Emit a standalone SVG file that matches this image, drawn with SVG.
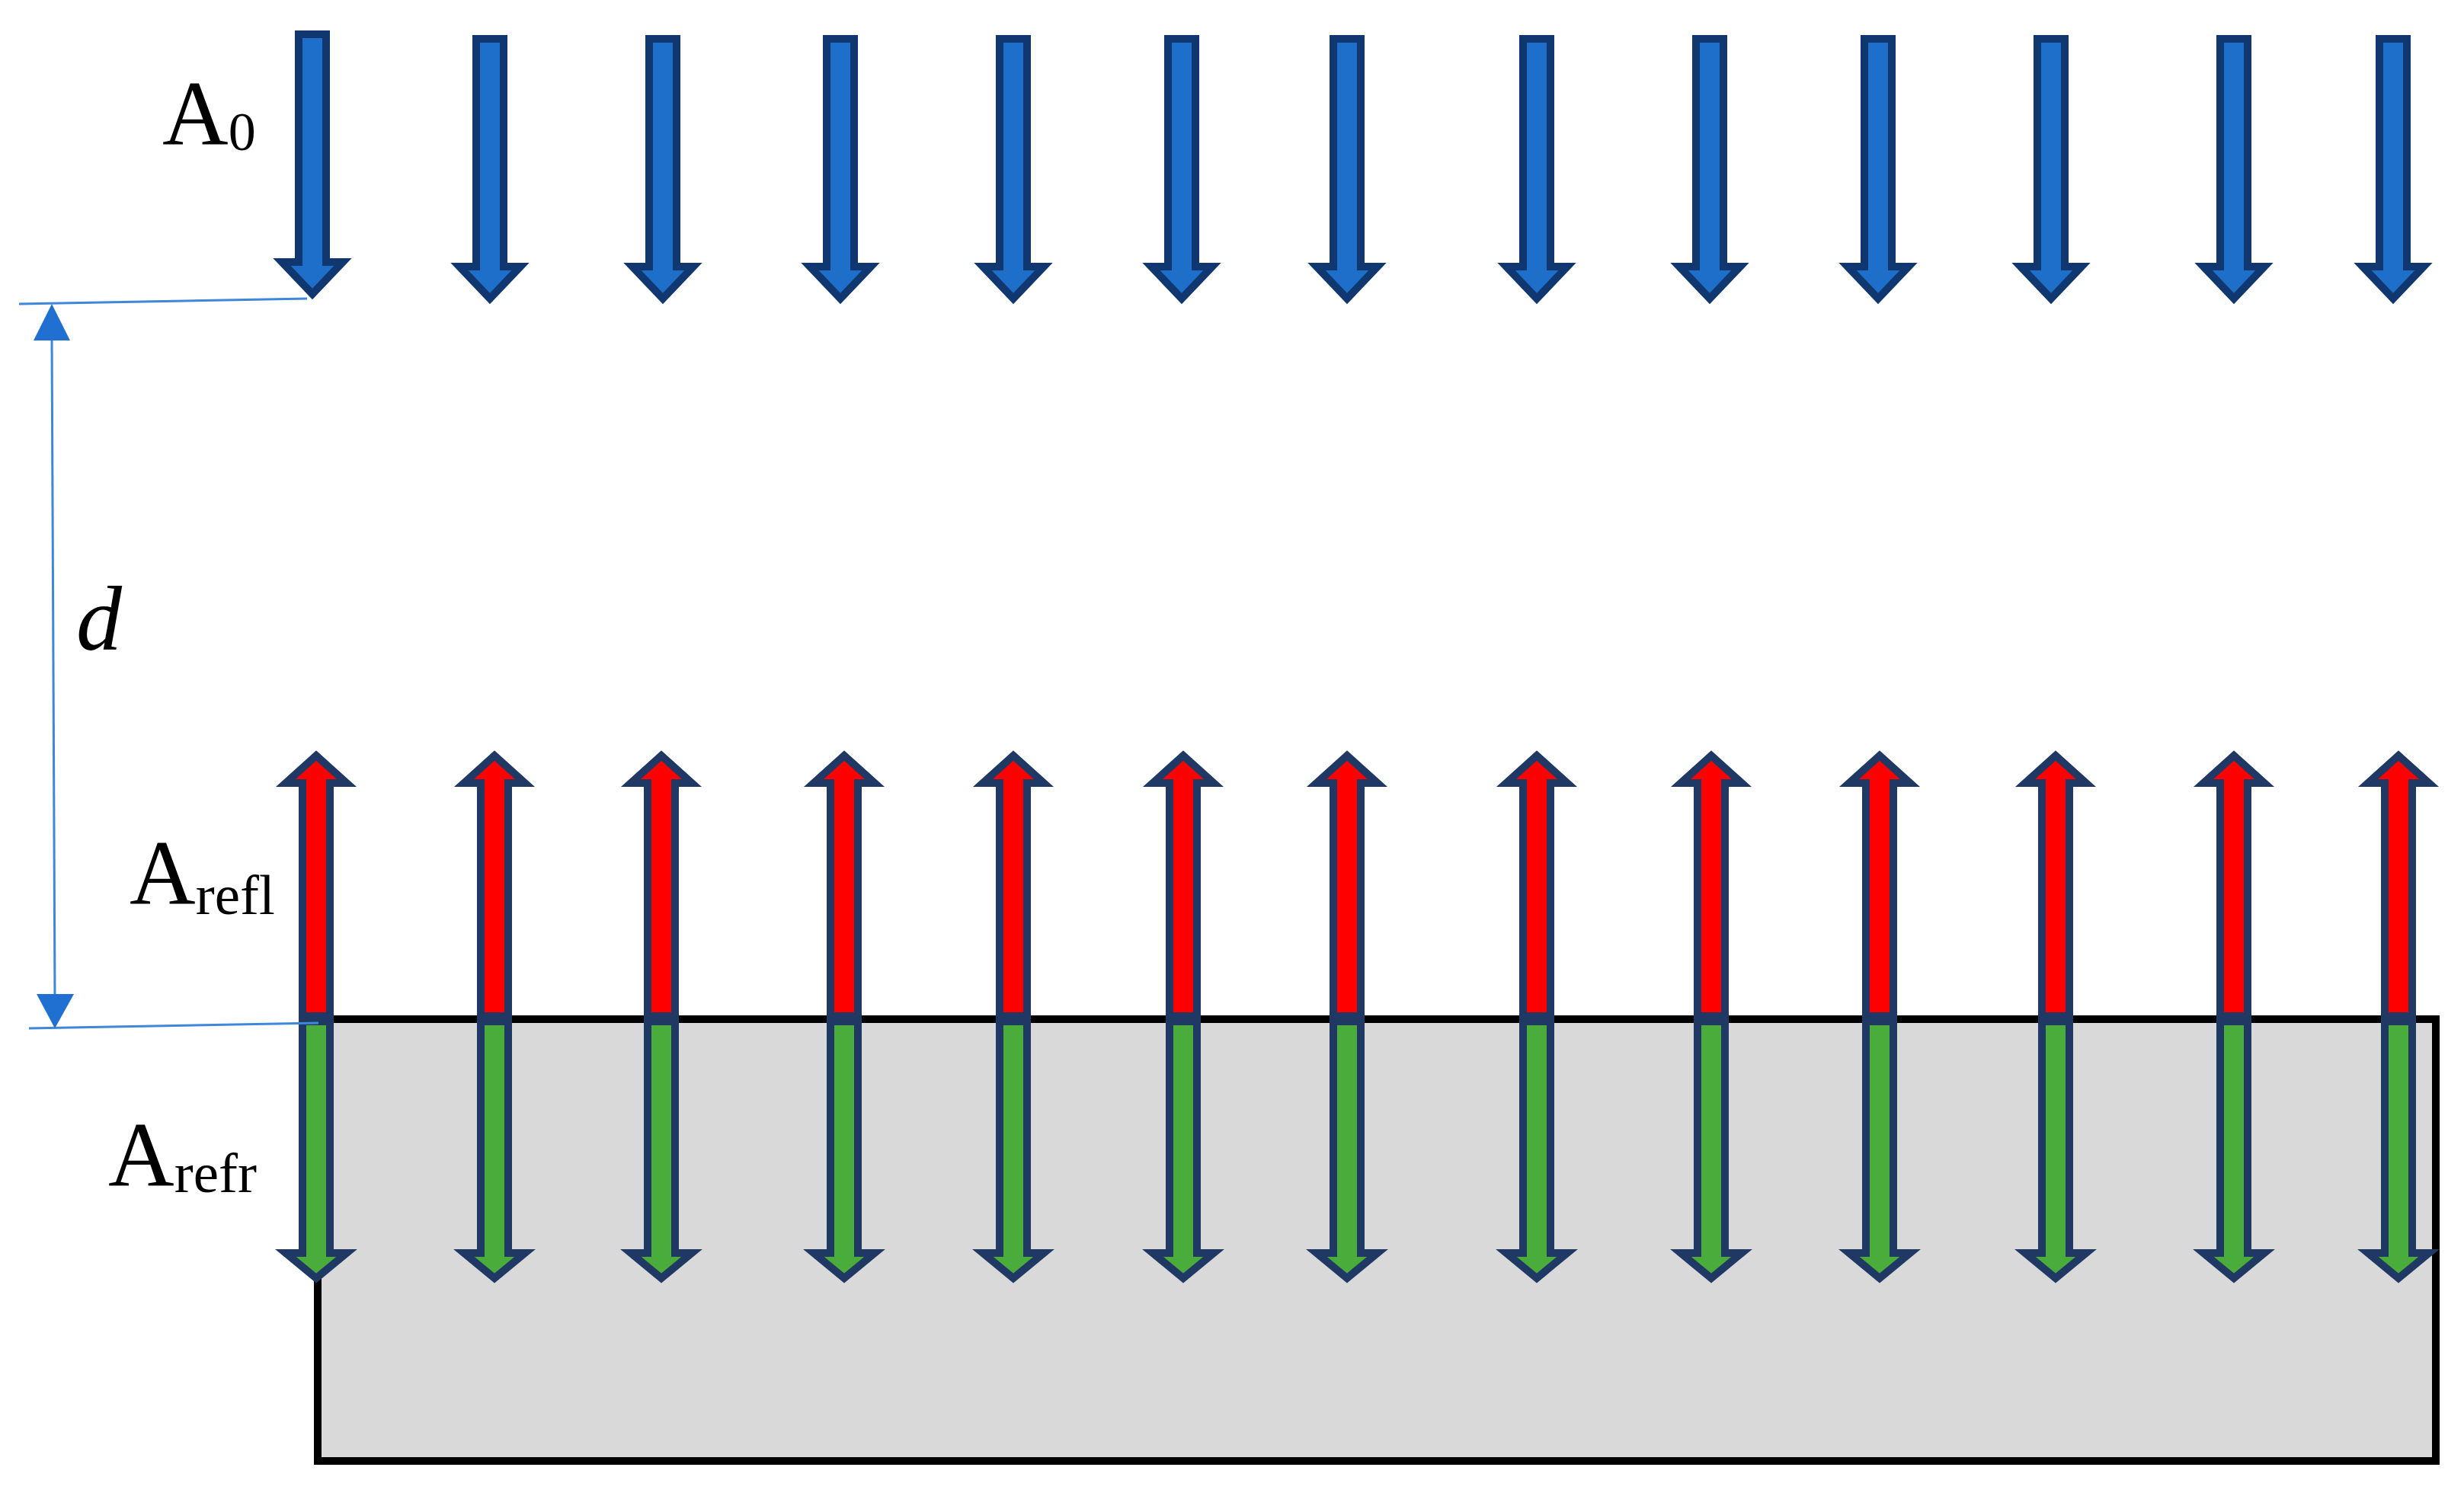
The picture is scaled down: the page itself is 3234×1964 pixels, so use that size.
<svg xmlns="http://www.w3.org/2000/svg" xmlns:xlink="http://www.w3.org/1999/xlink" width="3234" height="1964" viewBox="0 0 3234 1964">
<style>
.lbl{font-family:"Liberation Serif","Times New Roman",serif;fill:#000;}
.blue{fill:#1d6fca;stroke:#10376f;stroke-width:10;stroke-linejoin:miter;}
.red{fill:#ff0000;stroke:#1f3864;stroke-width:10;stroke-linejoin:miter;}
.green{fill:#4aac3b;stroke:#1f3864;stroke-width:10;stroke-linejoin:miter;}
.dim{stroke:#3f87d8;stroke-width:3;fill:none;}
.dimhead{fill:#1f70d0;}
</style>
<defs>
<path id="down" d="M-18,51 H18 V350 H40 L0,392 L-40,350 H-18 Z"/>
<path id="up" d="M0,992 L40,1028 H18 V1334 H-18 V1028 H-40 Z"/>
<path id="dn2" d="M-18,1341 H18 V1645 H40 L0,1678 L-40,1645 H-18 Z"/>
</defs>
<rect width="3234" height="1964" fill="#fff"/>
<g id="substrate"><rect x="417" y="1338" width="2780" height="580" fill="#d9d9d9" stroke="#000" stroke-width="10"/></g>
<g id="incident">
<use href="#down" class="blue" transform="translate(410,-6)"/>
<use href="#down" class="blue" transform="translate(643,0)"/>
<use href="#down" class="blue" transform="translate(870,0)"/>
<use href="#down" class="blue" transform="translate(1103,0)"/>
<use href="#down" class="blue" transform="translate(1330,0)"/>
<use href="#down" class="blue" transform="translate(1551,0)"/>
<use href="#down" class="blue" transform="translate(1768,0)"/>
<use href="#down" class="blue" transform="translate(2017,0)"/>
<use href="#down" class="blue" transform="translate(2244,0)"/>
<use href="#down" class="blue" transform="translate(2465,0)"/>
<use href="#down" class="blue" transform="translate(2692,0)"/>
<use href="#down" class="blue" transform="translate(2932,0)"/>
<use href="#down" class="blue" transform="translate(3141,0)"/>
</g>
<g id="reflected">
<use href="#up" class="red" transform="translate(415,0)"/>
<use href="#up" class="red" transform="translate(649,0)"/>
<use href="#up" class="red" transform="translate(868,0)"/>
<use href="#up" class="red" transform="translate(1108,0)"/>
<use href="#up" class="red" transform="translate(1330,0)"/>
<use href="#up" class="red" transform="translate(1553,0)"/>
<use href="#up" class="red" transform="translate(1768,0)"/>
<use href="#up" class="red" transform="translate(2017,0)"/>
<use href="#up" class="red" transform="translate(2246,0)"/>
<use href="#up" class="red" transform="translate(2467,0)"/>
<use href="#up" class="red" transform="translate(2698,0)"/>
<use href="#up" class="red" transform="translate(2932,0)"/>
<use href="#up" class="red" transform="translate(3148,0)"/>
</g>
<g id="refracted">
<use href="#dn2" class="green" transform="translate(415,0)"/>
<use href="#dn2" class="green" transform="translate(649,0)"/>
<use href="#dn2" class="green" transform="translate(868,0)"/>
<use href="#dn2" class="green" transform="translate(1108,0)"/>
<use href="#dn2" class="green" transform="translate(1330,0)"/>
<use href="#dn2" class="green" transform="translate(1553,0)"/>
<use href="#dn2" class="green" transform="translate(1768,0)"/>
<use href="#dn2" class="green" transform="translate(2017,0)"/>
<use href="#dn2" class="green" transform="translate(2246,0)"/>
<use href="#dn2" class="green" transform="translate(2467,0)"/>
<use href="#dn2" class="green" transform="translate(2698,0)"/>
<use href="#dn2" class="green" transform="translate(2932,0)"/>
<use href="#dn2" class="green" transform="translate(3148,0)"/>
</g>
<g id="connectors">
<line class="dim" x1="25" y1="399" x2="403" y2="392"/>
<line class="dim" x1="38" y1="1350" x2="418" y2="1343"/>
<line class="dim" x1="68" y1="440" x2="72" y2="1310"/>
<polygon class="dimhead" points="68,399 92,447 44,447"/>
<polygon class="dimhead" points="72,1350 48,1305 97,1305"/>
</g>
<g id="labels">
<text class="lbl" x="213" y="190" font-size="120">A<tspan font-size="72" dy="7">0</tspan></text>
<text class="lbl" x="100" y="853" font-size="120" font-style="italic">d</text>
<text class="lbl" x="170" y="1187" font-size="120">A<tspan font-size="75" dy="13">refl</tspan></text>
<text class="lbl" x="142" y="1557" font-size="120">A<tspan font-size="75" dy="8">refr</tspan></text>
</g>
</svg>
